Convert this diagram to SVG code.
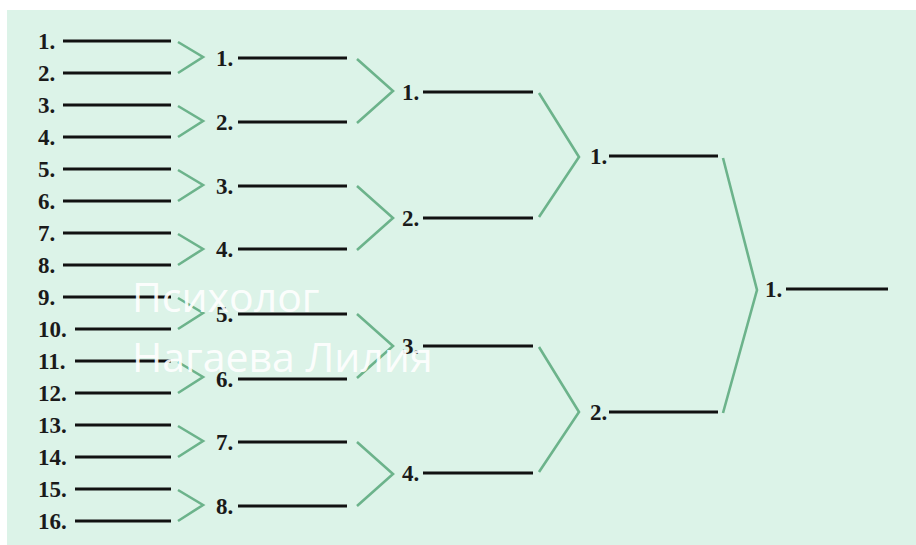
<svg xmlns="http://www.w3.org/2000/svg" width="916" height="545" viewBox="0 0 916 545">
<style>
.bg{fill:#dcf3e8}
.ln{stroke:#111111;stroke-width:3;stroke-linecap:butt}
.lb{font-family:"Liberation Serif","DejaVu Serif",serif;font-weight:bold;font-size:23px;fill:#1a1a1a}
.ch{fill:none;stroke:#6cb38b;stroke-width:2.6;stroke-linejoin:miter}
.wm{font-family:"Open Sans","Noto Sans",sans-serif;font-size:41px;fill:#ffffff;fill-opacity:0.92}
</style>
<rect width="916" height="545" fill="#ffffff"/>
<rect class="bg" x="7" y="10" width="909" height="535"/>
<g id="r1">
<g id="r1-1"><text class="lb" x="38" y="49">1.</text><line class="ln" x1="63" y1="41" x2="171" y2="41"/></g>
<g id="r1-2"><text class="lb" x="38" y="81">2.</text><line class="ln" x1="63" y1="73" x2="171" y2="73"/></g>
<g id="r1-3"><text class="lb" x="38" y="113">3.</text><line class="ln" x1="63" y1="105" x2="171" y2="105"/></g>
<g id="r1-4"><text class="lb" x="38" y="145">4.</text><line class="ln" x1="63" y1="137" x2="171" y2="137"/></g>
<g id="r1-5"><text class="lb" x="38" y="177">5.</text><line class="ln" x1="63" y1="169" x2="171" y2="169"/></g>
<g id="r1-6"><text class="lb" x="38" y="209">6.</text><line class="ln" x1="63" y1="201" x2="171" y2="201"/></g>
<g id="r1-7"><text class="lb" x="38" y="241">7.</text><line class="ln" x1="63" y1="233" x2="171" y2="233"/></g>
<g id="r1-8"><text class="lb" x="38" y="273">8.</text><line class="ln" x1="63" y1="265" x2="171" y2="265"/></g>
<g id="r1-9"><text class="lb" x="38" y="305">9.</text><line class="ln" x1="63" y1="297" x2="171" y2="297"/></g>
<g id="r1-10"><text class="lb" x="38" y="337">10.</text><line class="ln" x1="75" y1="329" x2="171" y2="329"/></g>
<g id="r1-11"><text class="lb" x="38" y="369">11.</text><line class="ln" x1="75" y1="361" x2="171" y2="361"/></g>
<g id="r1-12"><text class="lb" x="38" y="401">12.</text><line class="ln" x1="75" y1="393" x2="171" y2="393"/></g>
<g id="r1-13"><text class="lb" x="38" y="433">13.</text><line class="ln" x1="75" y1="425" x2="171" y2="425"/></g>
<g id="r1-14"><text class="lb" x="38" y="465">14.</text><line class="ln" x1="75" y1="457" x2="171" y2="457"/></g>
<g id="r1-15"><text class="lb" x="38" y="497">15.</text><line class="ln" x1="75" y1="489" x2="171" y2="489"/></g>
<g id="r1-16"><text class="lb" x="38" y="529">16.</text><line class="ln" x1="75" y1="521" x2="171" y2="521"/></g>
</g>
<g id="r2">
<g id="r2-1"><text class="lb" x="216" y="66">1.</text><line class="ln" x1="238" y1="58" x2="347" y2="58"/></g>
<g id="r2-2"><text class="lb" x="216" y="130">2.</text><line class="ln" x1="238" y1="122" x2="347" y2="122"/></g>
<g id="r2-3"><text class="lb" x="216" y="194">3.</text><line class="ln" x1="238" y1="186" x2="347" y2="186"/></g>
<g id="r2-4"><text class="lb" x="216" y="257">4.</text><line class="ln" x1="238" y1="249" x2="347" y2="249"/></g>
<g id="r2-5"><text class="lb" x="216" y="322">5.</text><line class="ln" x1="238" y1="314" x2="347" y2="314"/></g>
<g id="r2-6"><text class="lb" x="216" y="387">6.</text><line class="ln" x1="238" y1="379" x2="347" y2="379"/></g>
<g id="r2-7"><text class="lb" x="216" y="450">7.</text><line class="ln" x1="238" y1="442" x2="347" y2="442"/></g>
<g id="r2-8"><text class="lb" x="216" y="514">8.</text><line class="ln" x1="238" y1="506" x2="347" y2="506"/></g>
</g>
<g id="r3">
<g id="r3-1"><text class="lb" x="402" y="100">1.</text><line class="ln" x1="423" y1="92" x2="533" y2="92"/></g>
<g id="r3-2"><text class="lb" x="402" y="226">2.</text><line class="ln" x1="423" y1="218" x2="533" y2="218"/></g>
<g id="r3-3"><text class="lb" x="402" y="354">3.</text><line class="ln" x1="423" y1="346" x2="533" y2="346"/></g>
<g id="r3-4"><text class="lb" x="402" y="481">4.</text><line class="ln" x1="423" y1="473" x2="533" y2="473"/></g>
</g>
<g id="r4">
<g id="r4-1"><text class="lb" x="590" y="164">1.</text><line class="ln" x1="609" y1="156" x2="718" y2="156"/></g>
<g id="r4-2"><text class="lb" x="590" y="420">2.</text><line class="ln" x1="609" y1="412" x2="718" y2="412"/></g>
</g>
<g id="final"><text class="lb" x="765" y="297">1.</text><line class="ln" x1="786" y1="289" x2="888" y2="289"/></g>
<g id="connectors">
<polyline class="ch" points="178,42 203,57 178,73"/>
<polyline class="ch" points="178,106 203,121 178,137"/>
<polyline class="ch" points="178,170 203,185 178,201"/>
<polyline class="ch" points="178,234 203,249 178,265"/>
<polyline class="ch" points="178,298 203,313 178,329"/>
<polyline class="ch" points="178,362 203,377 178,393"/>
<polyline class="ch" points="178,426 203,441 178,457"/>
<polyline class="ch" points="178,490 203,505 178,521"/>
<polyline class="ch" points="357,59 393,91 357,123"/>
<polyline class="ch" points="357,186 393,218 357,250"/>
<polyline class="ch" points="357,314 393,346 357,378"/>
<polyline class="ch" points="357,442 393,474 357,506"/>
<polyline class="ch" points="539,93 579,157 539,217"/>
<polyline class="ch" points="539,347 579,412 539,472"/>
<polyline class="ch" points="723,158 757,290 723,413"/>
</g>
<g id="watermark">
<text class="wm" x="132" y="312">Психолог</text>
<text class="wm" x="132" y="372">Нагаева Лилия</text>
</g>
</svg>
